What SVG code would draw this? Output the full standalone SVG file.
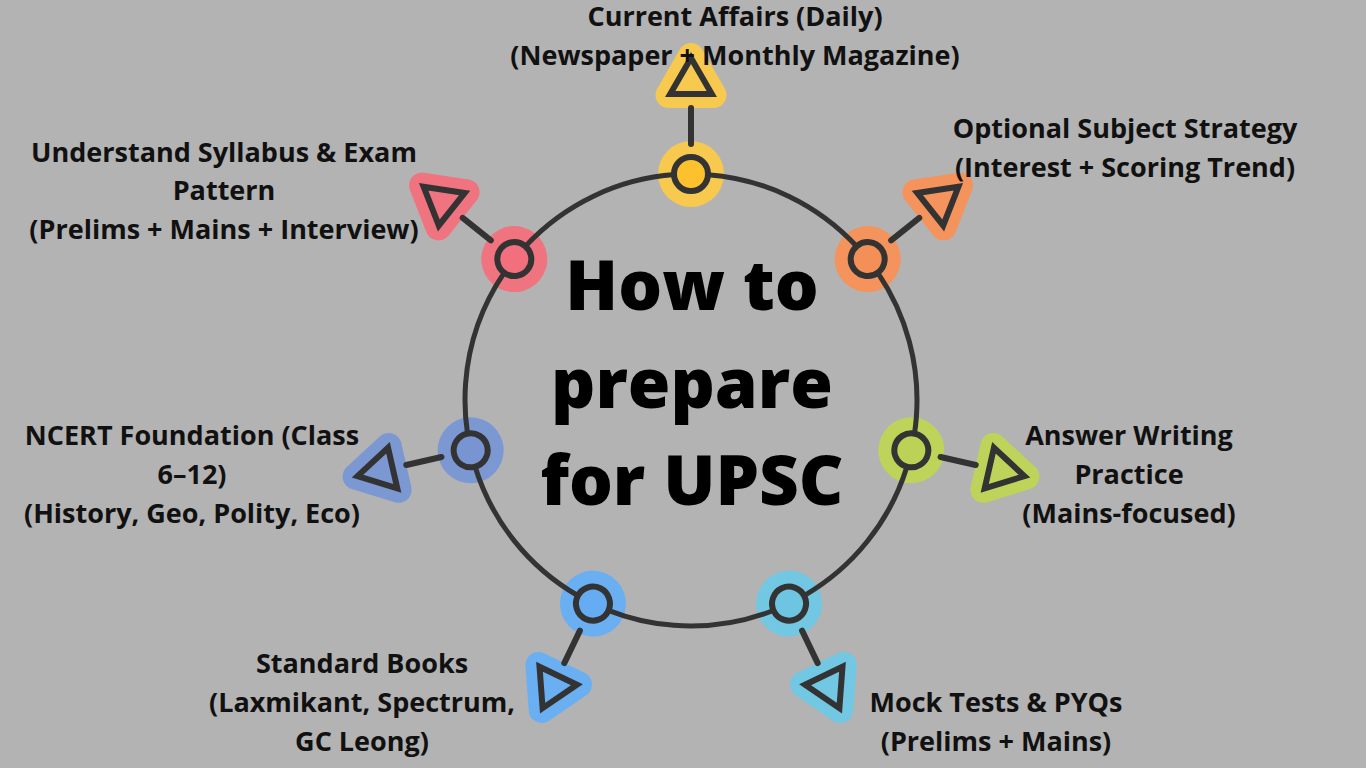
<svg xmlns="http://www.w3.org/2000/svg" width="1366" height="768" viewBox="0 0 1366 768">
<defs>
<style>
.lbl{font-family:"Open Sans","Liberation Sans",sans-serif;font-weight:700;font-size:27px;fill:#111;text-anchor:middle}
.title{font-family:"Open Sans","Liberation Sans",sans-serif;font-weight:800;font-size:69px;fill:#000;text-anchor:middle}
.dot{stroke:#333;stroke-width:6}
.tri{fill:none;stroke:#333;stroke-width:6;stroke-linejoin:miter}
.trih{stroke-width:26;stroke-linejoin:round}
.ring{fill:none;stroke:#333;stroke-width:5}
.spoke{stroke:#333;stroke-width:6;stroke-linecap:round}
</style>
</defs>
<rect width="1366" height="768" fill="#b3b3b3"/>

<g id="node-current-affairs">
<g transform="translate(691 400) rotate(0)">
<circle cx="0" cy="-226" r="33" fill="#f7c94e"/>
<polygon class="trih" points="0,-344 -22.5,-305 22.5,-305" fill="#f7c94e" stroke="#f7c94e"/>
<circle class="dot" cx="0" cy="-226" r="17" fill="#fcc12d"/>
<polygon class="tri" points="0,-342 -20.78,-306 20.78,-306"/>
</g>
<text class="lbl" x="735" y="26">Current Affairs (Daily)</text>
<text class="lbl" x="735" y="65">(Newspaper + Monthly Magazine)</text>
</g>

<g id="node-optional-subject">
<g transform="translate(691 400) rotate(51.4286)">
<circle cx="0" cy="-226" r="33" fill="#f4935c"/>
<polygon class="trih" points="0,-344 -22.5,-305 22.5,-305" fill="#f4935c" stroke="#f4935c"/>
<circle class="dot" cx="0" cy="-226" r="17" fill="#f48f57"/>
<polygon class="tri" points="0,-342 -20.78,-306 20.78,-306"/>
</g>
<text class="lbl" x="1125" y="138">Optional Subject Strategy</text>
<text class="lbl" x="1125" y="177">(Interest + Scoring Trend)</text>
</g>

<g id="node-answer-writing">
<g transform="translate(691 400) rotate(102.857)">
<circle cx="0" cy="-226" r="33" fill="#bed35a"/>
<polygon class="trih" points="0,-344 -22.5,-305 22.5,-305" fill="#bed35a" stroke="#bed35a"/>
<circle class="dot" cx="0" cy="-226" r="17" fill="#bcd256"/>
<polygon class="tri" points="0,-342 -20.78,-306 20.78,-306"/>
</g>
<text class="lbl" x="1129" y="445">Answer Writing</text>
<text class="lbl" x="1129" y="484">Practice</text>
<text class="lbl" x="1129" y="523">(Mains-focused)</text>
</g>

<g id="node-mock-tests">
<g transform="translate(691 400) rotate(154.286)">
<circle cx="0" cy="-226" r="33" fill="#72c7e2"/>
<polygon class="trih" points="0,-344 -22.5,-305 22.5,-305" fill="#72c7e2" stroke="#72c7e2"/>
<circle class="dot" cx="0" cy="-226" r="17" fill="#6ec5e1"/>
<polygon class="tri" points="0,-342 -20.78,-306 20.78,-306"/>
</g>
<text class="lbl" x="996" y="712">Mock Tests &amp; PYQs</text>
<text class="lbl" x="996" y="751">(Prelims + Mains)</text>
</g>

<g id="node-standard-books">
<g transform="translate(691 400) rotate(205.714)">
<circle cx="0" cy="-226" r="33" fill="#6aaff2"/>
<polygon class="trih" points="0,-344 -22.5,-305 22.5,-305" fill="#6aaff2" stroke="#6aaff2"/>
<circle class="dot" cx="0" cy="-226" r="17" fill="#66acf2"/>
<polygon class="tri" points="0,-342 -20.78,-306 20.78,-306"/>
</g>
<text class="lbl" x="362" y="673">Standard Books</text>
<text class="lbl" x="362" y="712">(Laxmikant, Spectrum,</text>
<text class="lbl" x="362" y="751">GC Leong)</text>
</g>

<g id="node-ncert">
<g transform="translate(691 400) rotate(257.143)">
<circle cx="0" cy="-226" r="33" fill="#7b98d3"/>
<polygon class="trih" points="0,-344 -22.5,-305 22.5,-305" fill="#7b98d3" stroke="#7b98d3"/>
<circle class="dot" cx="0" cy="-226" r="17" fill="#7895d2"/>
<polygon class="tri" points="0,-342 -20.78,-306 20.78,-306"/>
</g>
<text class="lbl" x="192" y="445">NCERT Foundation (Class</text>
<text class="lbl" x="192" y="484">6–12)</text>
<text class="lbl" x="192" y="523">(History, Geo, Polity, Eco)</text>
</g>

<g id="node-syllabus">
<g transform="translate(691 400) rotate(308.571)">
<circle cx="0" cy="-226" r="33" fill="#f07480"/>
<polygon class="trih" points="0,-344 -22.5,-305 22.5,-305" fill="#f07480" stroke="#f07480"/>
<circle class="dot" cx="0" cy="-226" r="17" fill="#f26f7e"/>
<polygon class="tri" points="0,-342 -20.78,-306 20.78,-306"/>
</g>
<text class="lbl" x="224" y="162">Understand Syllabus &amp; Exam</text>
<text class="lbl" x="224" y="200">Pattern</text>
<text class="lbl" x="224" y="239">(Prelims + Mains + Interview)</text>
</g>

<g id="connectors">
<circle class="ring" cx="691" cy="400" r="226" stroke-dasharray="168.857 34" transform="rotate(-85.69 691 400)"/>
<g transform="translate(691 400)">
<line class="spoke" x1="0" y1="-256" x2="0" y2="-292" transform="rotate(0)"/>
<line class="spoke" x1="0" y1="-256" x2="0" y2="-292" transform="rotate(51.4286)"/>
<line class="spoke" x1="0" y1="-256" x2="0" y2="-292" transform="rotate(102.857)"/>
<line class="spoke" x1="0" y1="-256" x2="0" y2="-292" transform="rotate(154.286)"/>
<line class="spoke" x1="0" y1="-256" x2="0" y2="-292" transform="rotate(205.714)"/>
<line class="spoke" x1="0" y1="-256" x2="0" y2="-292" transform="rotate(257.143)"/>
<line class="spoke" x1="0" y1="-256" x2="0" y2="-292" transform="rotate(308.571)"/>
</g>
</g>

<g id="title">
<text class="title" x="692" y="310">How to</text>
<text class="title" x="692" y="408">prepare</text>
<text class="title" x="692" y="505">for UPSC</text>
</g>
</svg>
